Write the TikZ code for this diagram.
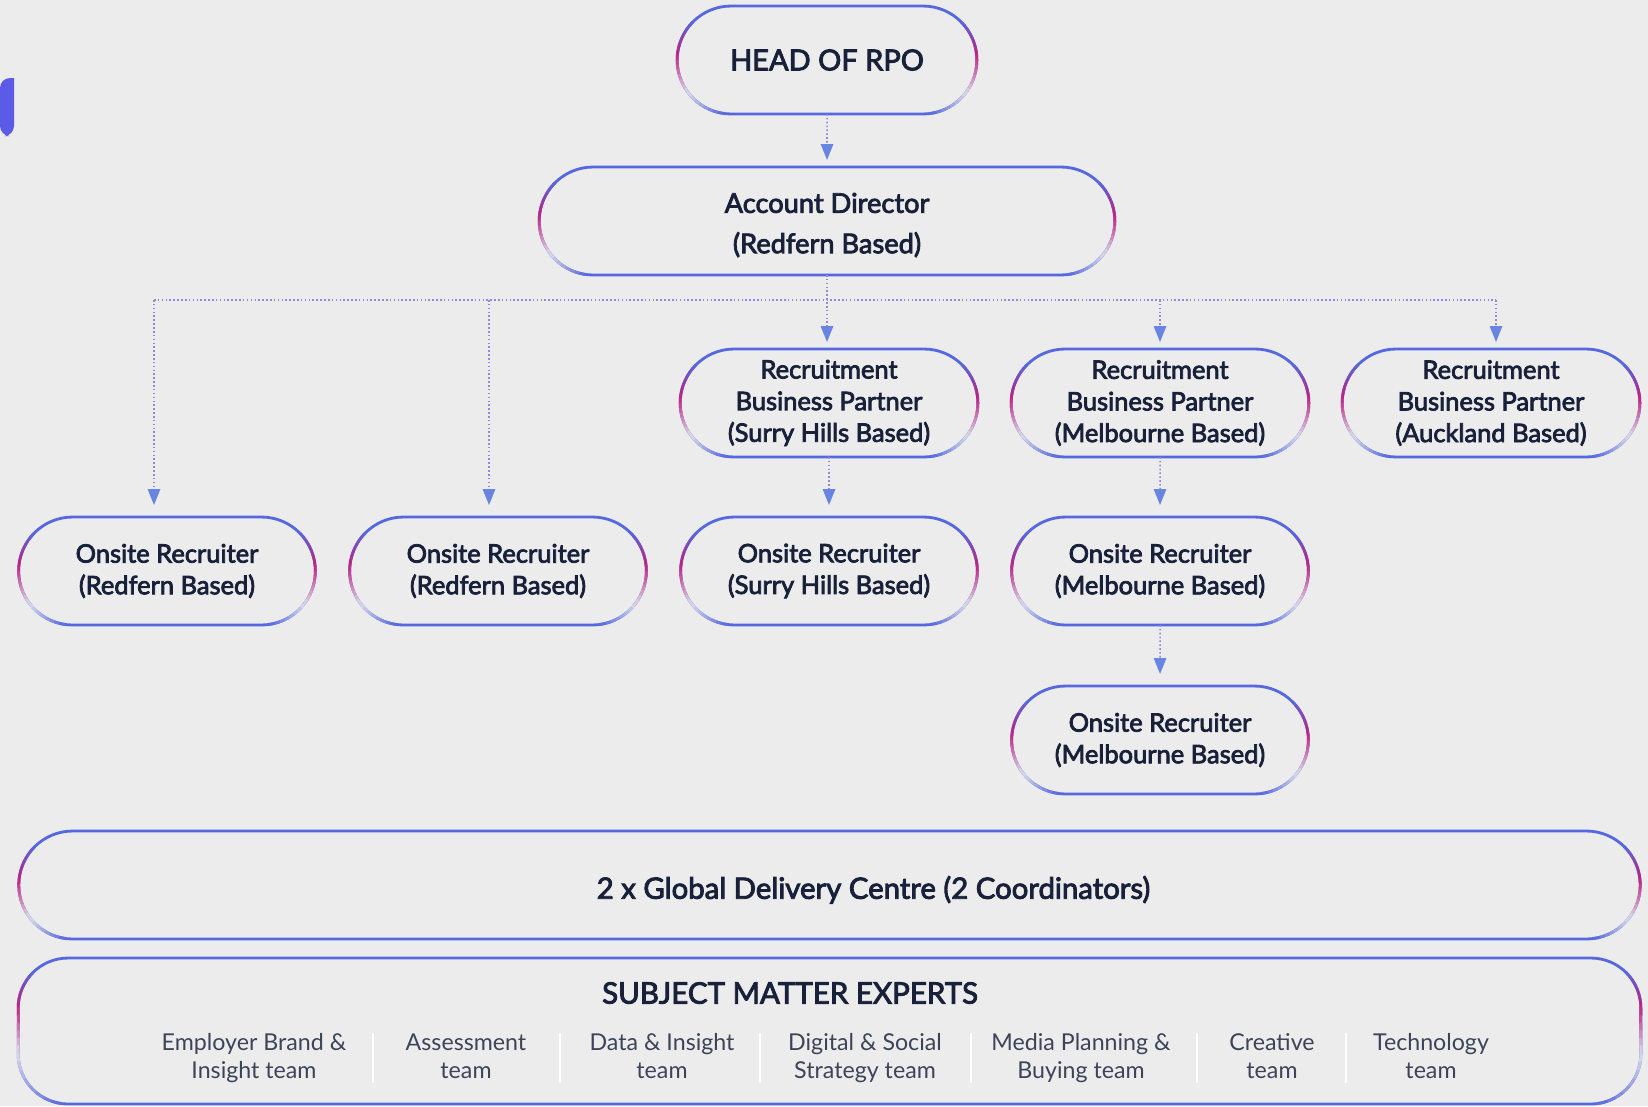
\documentclass[tikz,border=0pt]{standalone}
\usepackage{fontspec}
\setmainfont{Lato}
\newfontfamily\medfont{Lato}[FakeBold=3]
\usetikzlibrary{shapes.misc,arrows.meta,calc}

\definecolor{rb}{HTML}{5568E0}
\definecolor{mg}{HTML}{C2207E}
\definecolor{wt}{HTML}{DCDCEA}
\definecolor{bg}{HTML}{ECECEC}
\definecolor{navy}{HTML}{18203A}
\definecolor{slate}{HTML}{3B4458}
\definecolor{dotc}{HTML}{9686D8}
\definecolor{tipblue}{HTML}{6A84E2}
\definecolor{logo}{HTML}{5B5BE8}

\tikzstyle{pill}=[rounded rectangle, draw=rb, line width=1.6pt, outer sep=0pt,
  minimum height=2.16cm, align=center, text=navy,
  font=\medfont\fontsize{14.5}{18}\selectfont]
\tikzstyle{smebox}=[draw=rb, line width=1.6pt, outer sep=0pt, rounded corners=1cm]
\tikzstyle{dep}=[-{Triangle[width=7pt,length=9pt,color=tipblue]}, color=dotc,
  line width=0.9pt, dash pattern=on 0.9pt off 1.3pt]
\tikzstyle{glow}=[line width=1.6pt, line cap=round]
\tikzstyle{smeitem}=[align=center, text=slate, font=\fontsize{13.2}{15.5}\selectfont]
\tikzstyle{sep}=[white, line width=1.2pt]

% gradient piece of an end arc: centre, radius, from angle, to angle, from colour, to colour
\newcommand\glowarc[6]{%
  \foreach \s in {0,...,7} {%
    \pgfmathsetmacro\ga{#3+(#4-#3)*\s/8}%
    \pgfmathsetmacro\gb{#3+(#4-#3)*(\s+1)/8}%
    \pgfmathtruncatemacro\gp{(\s+0.5)*12.5}%
    \draw[glow, color=#6!\gp!#5] (#1) ++(\ga:#2) arc[start angle=\ga, end angle=\gb, radius=#2];
  }%
}
\newcommand\glowline[4]{%
  \foreach \s in {0,...,5} {%
    \pgfmathsetmacro\ga{\s/6}%
    \pgfmathsetmacro\gb{(\s+1)/6}%
    \pgfmathtruncatemacro\gp{(\s+0.5)*16.6}%
    \draw[glow, color=#4!\gp!#3] ($(#1)!\ga!(#2)$) -- ($(#1)!\gb!(#2)$);
  }%
}
\newcommand\pillglow[1]{%
  \coordinate (#1-l) at ($(#1.west)+(1.08cm,0cm)$);
  \coordinate (#1-r) at ($(#1.east)+(-1.08cm,0cm)$);
  \glowarc{#1-l}{1.08cm}{135}{175}{rb}{mg}
  \glowarc{#1-l}{1.08cm}{175}{218}{mg}{wt}
  \glowarc{#1-l}{1.08cm}{218}{262}{wt}{rb}
  \glowarc{#1-r}{1.08cm}{45}{5}{rb}{mg}
  \glowarc{#1-r}{1.08cm}{5}{-38}{mg}{wt}
  \glowarc{#1-r}{1.08cm}{-38}{-82}{wt}{rb}
}

\begin{document}
\begin{tikzpicture}[x=0.02cm, y=-0.02cm]
  \useasboundingbox (0,0) rectangle (1648,1106);
  \fill[bg] (0,0) rectangle (1648,1106);
  \fill[logo] (0,78) -- (14,78) [rounded corners=0.2cm] -- (14,136) -- (0,136) -- cycle;

  \node[pill, minimum width=6.23cm, font=\medfont\fontsize{16.5}{20}\selectfont] (head) at (827,60) {HEAD OF RPO};
  \node[pill, minimum width=11.75cm, font=\medfont\fontsize{15.5}{23}\selectfont] (ad) at (827,221) {\rule{0pt}{0.56cm}Account Director\\(Redfern Based)};

  \node[pill, minimum width=6.19cm] (rbp1) at (829,403) {Recruitment\\Business Partner\\(Surry Hills Based)};
  \node[pill, minimum width=6.19cm] (rbp2) at (1160,403) {Recruitment\\Business Partner\\(Melbourne Based)};
  \node[pill, minimum width=6.19cm] (rbp3) at (1491,403) {Recruitment\\Business Partner\\(Auckland Based)};

  \node[pill, minimum width=6.17cm] (on1) at (167,571) {Onsite Recruiter\\(Redfern Based)};
  \node[pill, minimum width=6.17cm] (on2) at (498,571) {Onsite Recruiter\\(Redfern Based)};
  \node[pill, minimum width=6.17cm] (on3) at (829,571) {Onsite Recruiter\\(Surry Hills Based)};
  \node[pill, minimum width=6.17cm] (on4) at (1160,571) {Onsite Recruiter\\(Melbourne Based)};
  \node[pill, minimum width=6.17cm] (on5) at (1160,740) {Onsite Recruiter\\(Melbourne Based)};

  \node[pill, minimum width=32.67cm, font=\medfont\fontsize{16.7}{20}\selectfont] (gdc) at (829.5,885) {\hspace*{1.76cm}\rule{0pt}{0.65cm}2 x Global Delivery Centre (2 Coordinators)};
  \node[smebox, minimum width=32.46cm, minimum height=2.92cm] (sme) at (829.5,1031) {};

  \foreach \n in {head, ad, rbp1, rbp2, rbp3, on1, on2, on3, on4, on5, gdc} {
    \pillglow{\n}
  }
  \coordinate (sme-tl) at ($(sme.north west)+(1cm,-1cm)$);
  \coordinate (sme-bl) at ($(sme.south west)+(1cm,1cm)$);
  \coordinate (sme-tr) at ($(sme.north east)+(-1cm,-1cm)$);
  \coordinate (sme-br) at ($(sme.south east)+(-1cm,1cm)$);
  \glowarc{sme-tl}{1cm}{135}{180}{rb}{mg}
  \glowline{sme.north west |- sme-tl}{sme.north west |- sme-bl}{mg}{wt}
  \glowarc{sme-bl}{1cm}{180}{262}{wt}{rb}
  \glowarc{sme-tr}{1cm}{45}{0}{rb}{mg}
  \glowline{sme.north east |- sme-tr}{sme.north east |- sme-br}{mg}{wt}
  \glowarc{sme-br}{1cm}{0}{-82}{wt}{rb}

  \node[text=navy, font=\medfont\fontsize{16.8}{20}\selectfont] (smehead) at (790,993) {SUBJECT MATTER EXPERTS};
  \foreach \x/\t [count=\i] in {254/{Employer Brand \&\\Insight team}, 466/{Assessment\\team},
      662/{Data \& Insight\\team}, 865/{Digital \& Social\\Strategy team},
      1081/{Media Planning \&\\Buying team}, 1272/{Creative\\team}, 1431/{Technology\\team}} {
    \node[smeitem] (item\i) at (\x,1059) {\strut\t\strut};
  }
  \foreach \x in {373, 560, 760, 971, 1197, 1346} {
    \draw[sep] (\x,1033) -- (\x,1083);
  }

  % connectors
  \coordinate (bus1) at (154,300);
  \coordinate (bus2) at (489,300);
  \coordinate (bus4) at (1160,300);
  \coordinate (bus5) at (1496,300);
  \draw[dep, shorten >=0.14cm] (head) -- (ad);
  \draw[dep, shorten >=0.14cm] (ad.south) -- (ad.south |- rbp1.north);
  \draw[dep, -] (bus1) -- (bus5);
  \draw[dep, shorten >=0.24cm] (bus1) -- (bus1 |- on1.north);
  \draw[dep, shorten >=0.24cm] (bus2) -- (bus2 |- on2.north);
  \draw[dep, shorten >=0.14cm] (bus4) -- (rbp2.north);
  \draw[dep, shorten >=0.14cm] (bus5) -- (bus5 |- rbp3.north);
  \draw[dep, shorten >=0.24cm] (rbp1.south) -- (rbp1.south |- on3.north);
  \draw[dep, shorten >=0.24cm] (rbp2) -- (on4);
  \draw[dep, shorten >=0.24cm] (on4) -- (on5);
\end{tikzpicture}
\end{document}
